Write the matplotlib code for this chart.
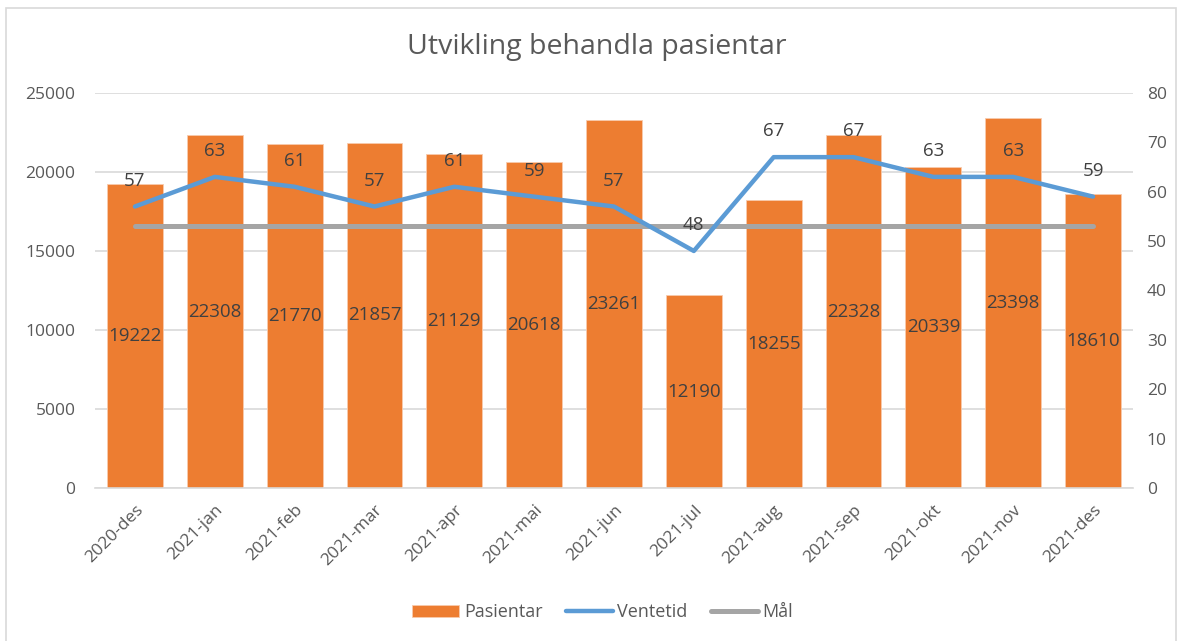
import matplotlib.pyplot as plt
from matplotlib.patches import Rectangle

# ── data ─────────────────────────────────────────────────────────────────────
months = ["2020-des", "2021-jan", "2021-feb", "2021-mar", "2021-apr", "2021-mai",
          "2021-jun", "2021-jul", "2021-aug", "2021-sep", "2021-okt", "2021-nov",
          "2021-des"]
pasientar = [19222, 22308, 21770, 21857, 21129, 20618, 23261, 12190, 18255,
             22328, 20339, 23398, 18610]
ventetid = [57, 63, 61, 57, 61, 59, 57, 48, 67, 67, 63, 63, 59]
maal = [53] * len(months)

ORANGE = "#ED7D31"
BLUE = "#5B9BD5"
GREY = "#A5A5A5"
TEXT = "#595959"
LABEL = "#404040"

plt.rcParams["font.family"] = ["Open Sans", "DejaVu Sans"]

fig = plt.figure(figsize=(11.82, 6.41), dpi=100)
fig.patches.append(Rectangle((0.005, -0.01), 0.99, 0.997, transform=fig.transFigure,
                             fill=False, edgecolor="#D9D9D9", linewidth=1.2))

ax = fig.add_axes([0.0804, 0.2387, 0.8781, 0.6163])
x = range(len(months))

# ── bars (left axis) ─────────────────────────────────────────────────────────
ax.bar(x, pasientar, width=0.7, color=ORANGE, edgecolor="#F8CBAD",
       linewidth=0.6, label="Pasientar", zorder=2)
for xi, v in zip(x, pasientar):
    ax.text(xi, v / 2, str(v), ha="center", va="center", fontsize=13.5,
            color=LABEL, zorder=5)

ax.set_xlim(-0.5, len(months) - 0.5)
ax.set_ylim(0, 25000)
ax.set_yticks(range(0, 25001, 5000))
ax.grid(axis="y", color="#D9D9D9", linewidth=1.2, zorder=0)
ax.set_axisbelow(True)
ax.set_xticks(list(x))
ax.set_xticklabels(months, rotation=45, ha="right", rotation_mode="anchor")
ax.tick_params(axis="both", length=0, labelsize=12.5, colors=TEXT)
ax.tick_params(axis="y", pad=14)
ax.tick_params(axis="x", pad=10)
for s in ["top", "right", "left"]:
    ax.spines[s].set_visible(False)
ax.spines["bottom"].set_color("#D9D9D9")
ax.spines["bottom"].set_linewidth(1.2)

# ── lines (right axis) ───────────────────────────────────────────────────────
ax2 = ax.twinx()
ax2.plot(x, ventetid, color=BLUE, linewidth=3.2, label="Ventetid", zorder=4,
         solid_capstyle="round")
ax2.plot(x, maal, color=GREY, linewidth=3.6, label="Mål", zorder=3,
         solid_capstyle="round")
for xi, v in zip(x, ventetid):
    ax2.annotate(str(v), (xi, v), xytext=(0, 12), textcoords="offset points",
                 ha="center", va="bottom", fontsize=13.5, color=LABEL)
ax2.set_ylim(0, 80)
ax2.set_yticks(range(0, 81, 10))
ax2.tick_params(axis="y", length=0, labelsize=12.5, colors=TEXT, pad=10)
for s in ax2.spines.values():
    s.set_visible(False)

fig.suptitle("Utvikling behandla pasientar", x=0.505, y=0.948, fontsize=20.5,
             color=TEXT)

h1, l1 = ax.get_legend_handles_labels()
h2, l2 = ax2.get_legend_handles_labels()
fig.legend(h1 + h2, l1 + l2, loc="center", bbox_to_anchor=(0.51, 0.045), ncol=3,
           frameon=False, fontsize=13, labelcolor=TEXT, handlelength=2.6,
           handletextpad=0.25, columnspacing=1.3)

fig.savefig("out.png", dpi=100)
